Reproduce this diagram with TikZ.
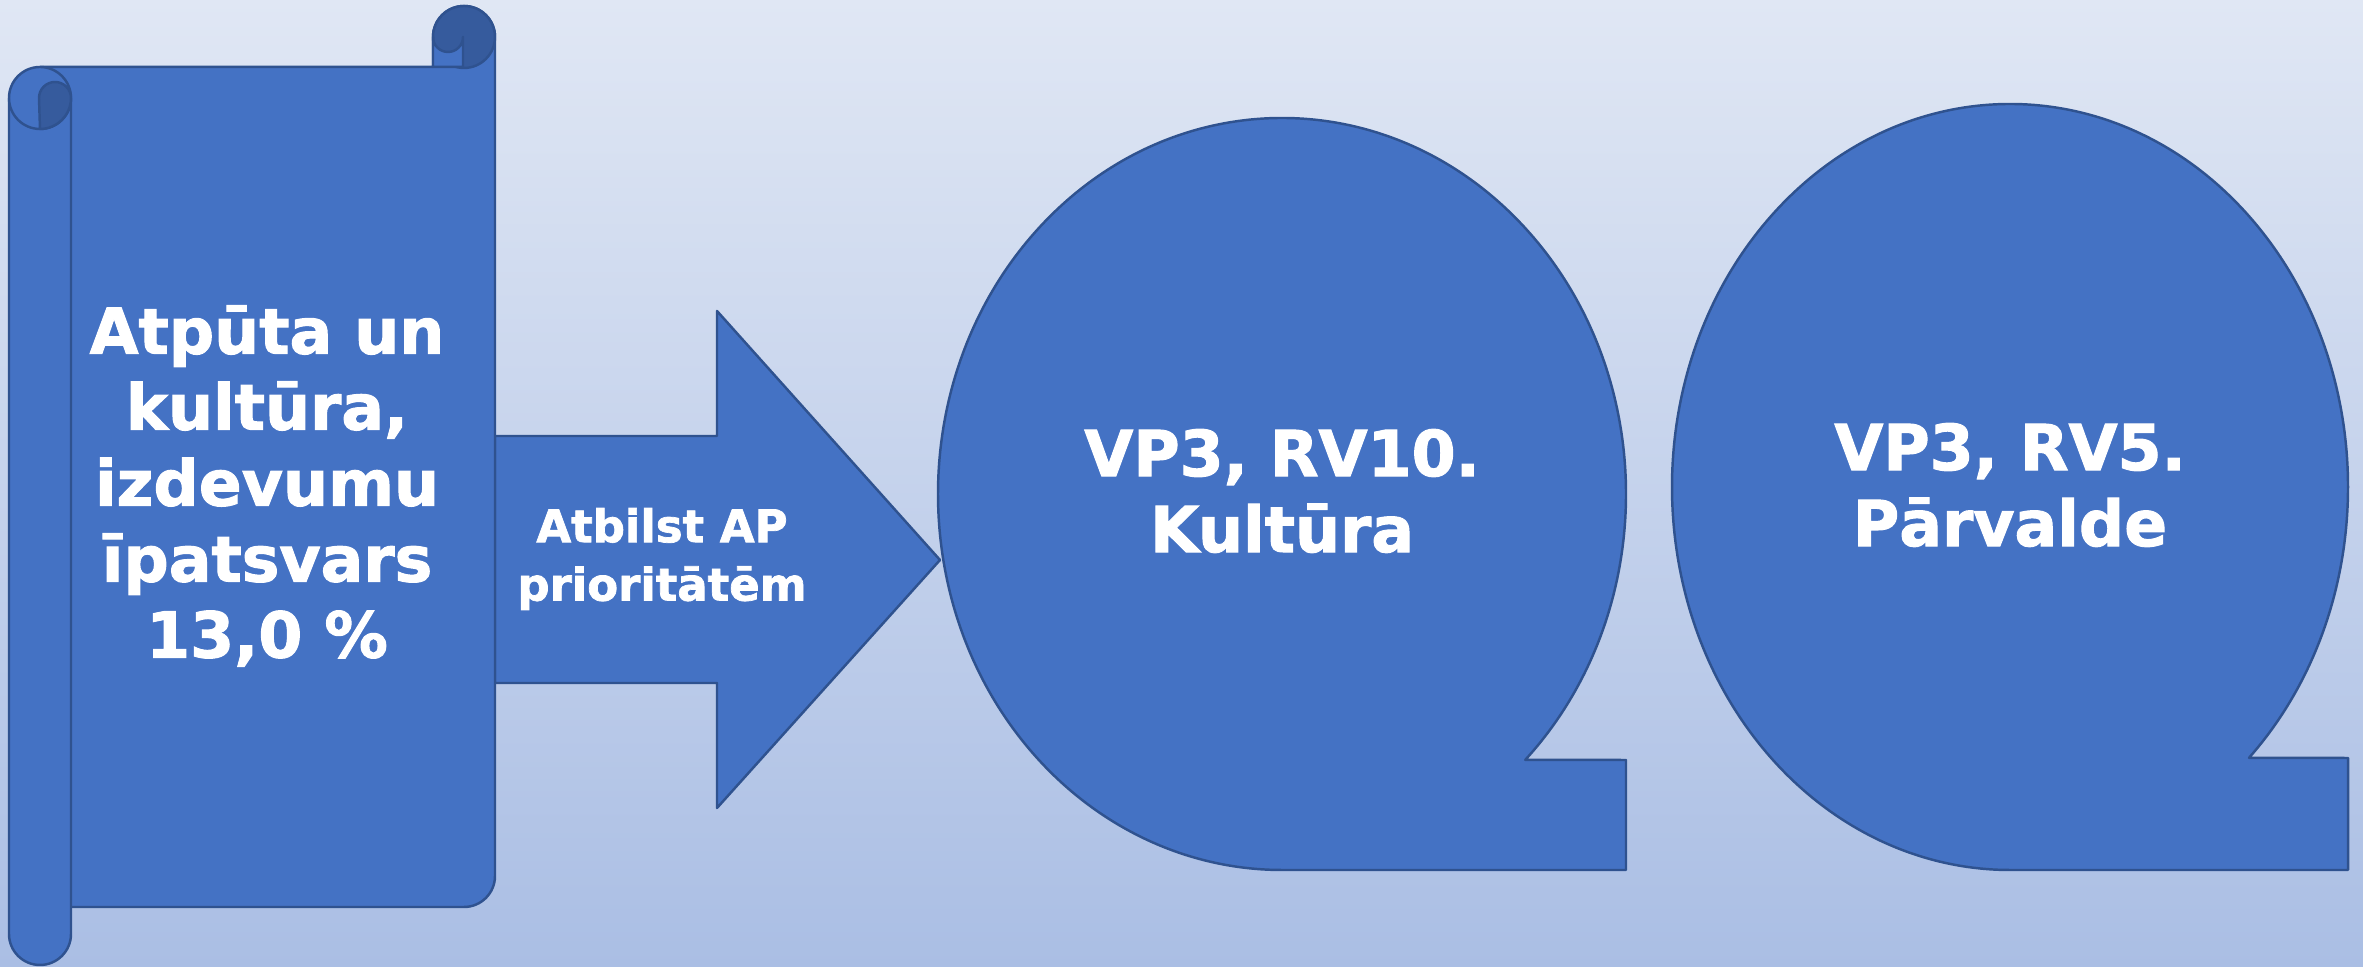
\documentclass[tikz,border=0pt]{standalone}
\usepackage{fontspec}
\setmainfont{DejaVu Sans}[BoldFeatures={FakeBold=1.6}]
\definecolor{mainblue}{HTML}{4472C4}
\definecolor{edgeblue}{HTML}{2F528F}
\definecolor{darkblue}{HTML}{365B9D}
\definecolor{bgtop}{RGB}{224,231,244}
\definecolor{bgbot}{RGB}{170,190,228}
\begin{document}
\begin{tikzpicture}[x=0.01cm,y=0.01cm,
  shp/.style={fill=mainblue, draw=edgeblue, line width=0.7pt, line join=round},
  drk/.style={fill=darkblue, draw=edgeblue, line width=0.7pt, line join=round},
  bigtxt/.style={text=white, font=\fontsize{18}{21.6}\selectfont\bfseries, align=center, inner sep=0pt},
  smalltxt/.style={text=white, font=\fontsize{12.8}{16.6}\selectfont\bfseries, align=center, inner sep=0pt}]
\shade[top color=bgtop, bottom color=bgbot] (0,0) rectangle (2363,967);
\useasboundingbox (0,0) rectangle (2363,967);

% arrow
\draw[shp] (495,531) -- (717,531) -- (717,656) -- (940,407) -- (717,159) -- (717,284) -- (495,284) -- cycle;

% scroll body and top roll
\draw[shp] (40,900) -- (433,900) -- (433,930) arc[start angle=180,end angle=0,radius=31]
  -- (495,91) arc[start angle=0,end angle=-90,radius=31] -- (40,60) -- cycle;
\draw[drk] (464,930) circle[radius=31];
\draw[shp] (433,900) -- (433,930) arc[start angle=180,end angle=360,radius=15] -- (463,900) -- cycle;

% left roll
\draw[shp] (9,869) -- (9,33) arc[start angle=180,end angle=360,radius=31] -- (71,869);
\draw[shp] (40,869) circle[radius=31];
\draw[drk] (40,838) arc[start angle=270,end angle=360,radius=31] arc[start angle=0,end angle=180,radius=16] -- cycle;

% Q shapes
\draw[shp] (1282,473) ++(-45:344 and 376) arc[start angle=-45,end angle=270,x radius=344,y radius=376]
  -- (1626,97) -- (1626,207) -- cycle;
\draw[shp] (2010,480) ++(-45:338 and 383) arc[start angle=-45,end angle=270,x radius=338,y radius=383]
  -- (2348,97) -- (2348,209) -- cycle;

% texts
\node[bigtxt] (scrolltxt) at (267,481) {Atpūta un\\kultūra,\\izdevumu\\īpatsvars\\13,0 \%};
\node[smalltxt] (arrtxt) at (662,408) {Atbilst AP\\prioritātēm};
\node[bigtxt] (qonetxt) at (1282,476) {VP3, RV10.\\Kultūra};
\node[bigtxt] (qtwotxt) at (2010,482) {VP3, RV5.\\Pārvalde};
\end{tikzpicture}
\end{document}
